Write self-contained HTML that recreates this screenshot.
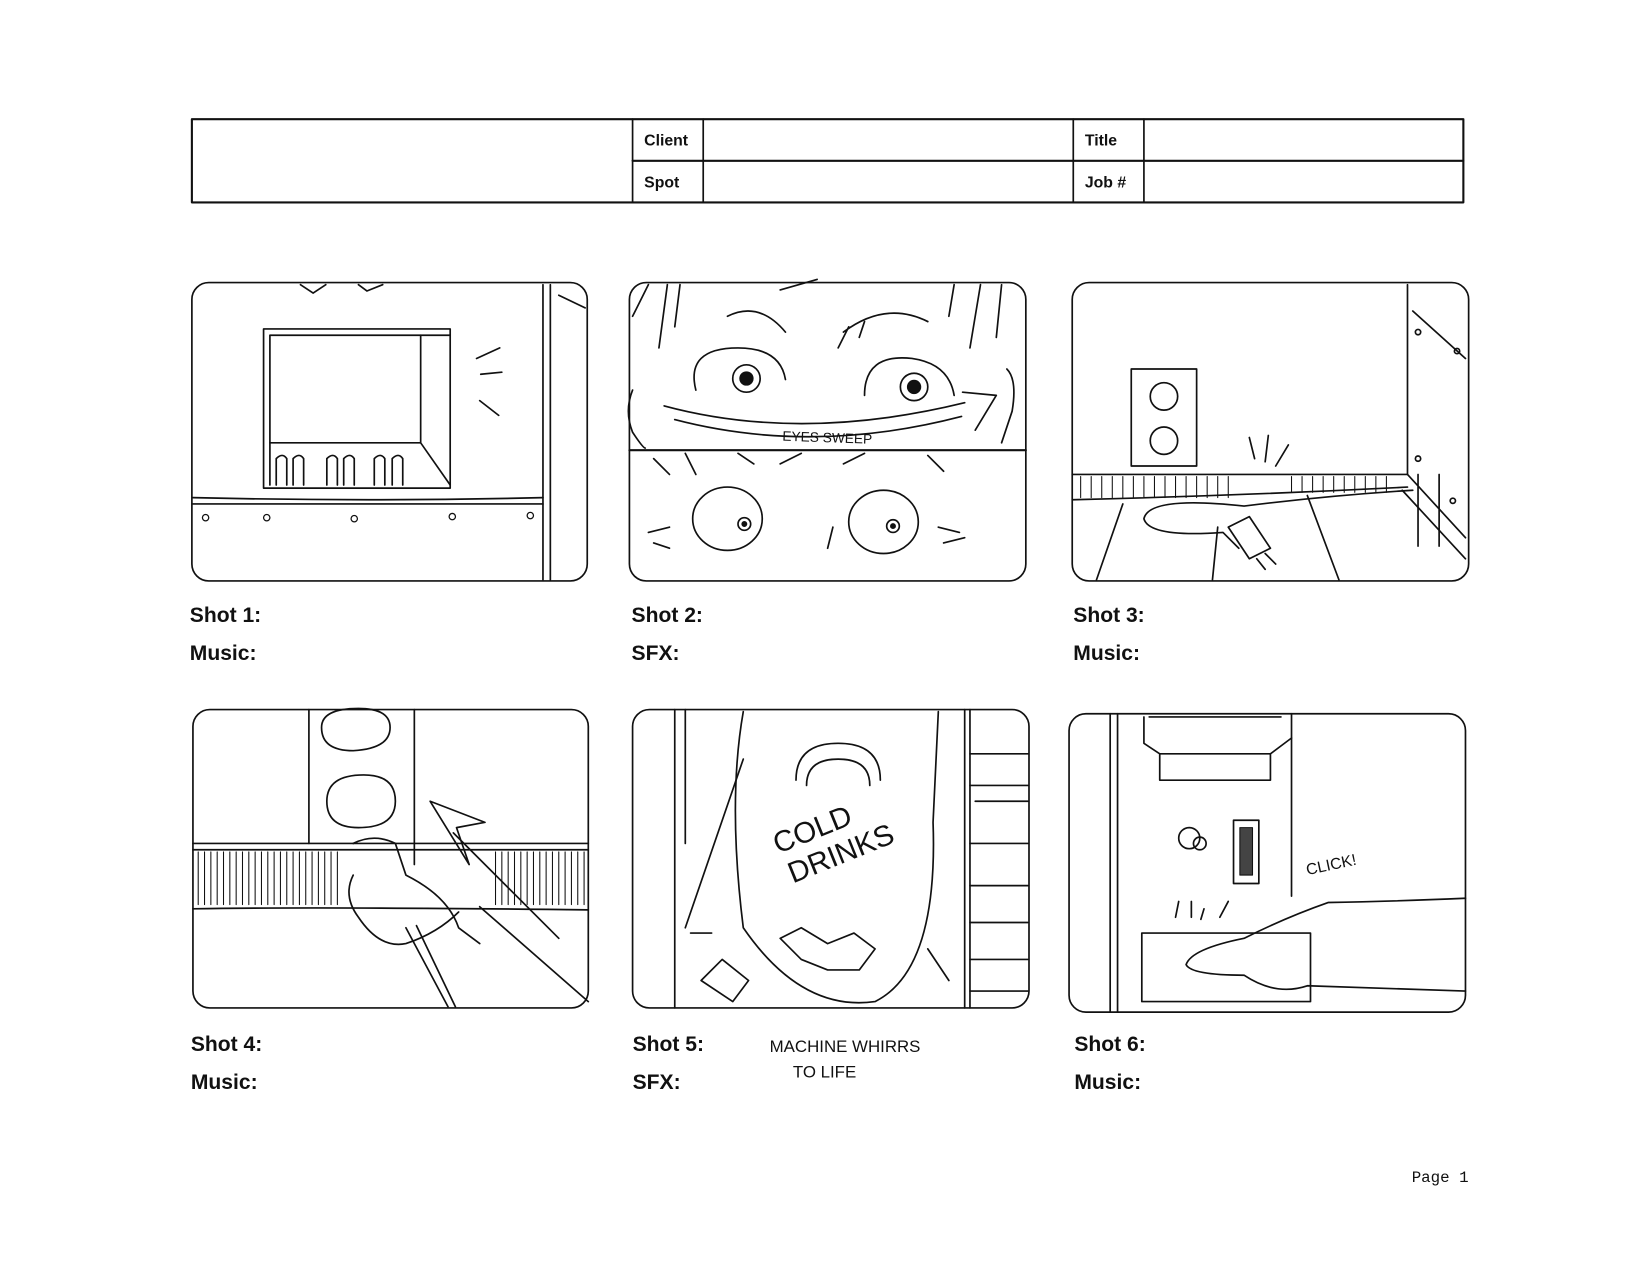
<!DOCTYPE html>
<html><head><meta charset="utf-8"><style>
html,body{margin:0;padding:0;background:#fff;}
svg{display:block;}
.l{font-family:"Liberation Sans",sans-serif;font-weight:bold;fill:#111;}
.h{font-family:"Liberation Sans",sans-serif;fill:#111;}
</style></head><body>
<svg width="1650" height="1275" viewBox="0 0 1650 1275" xmlns="http://www.w3.org/2000/svg">
<rect width="1650" height="1275" fill="#fff"/>
<g transform="scale(1.0543)" fill="none" stroke="#111" stroke-width="1.6" stroke-linecap="round" stroke-linejoin="round">
<!-- header table -->
<rect x="182" y="113" width="1206" height="79" stroke-width="2"/>
<line x1="600" y1="152.5" x2="1388" y2="152.5" stroke-width="2"/>
<line x1="600" y1="113" x2="600" y2="192"/>
<line x1="667" y1="113" x2="667" y2="192"/>
<line x1="1018" y1="113" x2="1018" y2="192"/>
<line x1="1085" y1="113" x2="1085" y2="192"/>
<g stroke="none">
<text class="l" x="611" y="138" font-size="15" style="font-weight:600">Client</text>
<text class="l" x="611" y="178" font-size="15" style="font-weight:600">Spot</text>
<text class="l" x="1029" y="138" font-size="15" style="font-weight:600">Title</text>
<text class="l" x="1029" y="178" font-size="15" style="font-weight:600">Job #</text>
</g>

<!-- Panels -->
<rect x="182" y="268" width="375" height="283" rx="16"/>
<rect x="597" y="268" width="376" height="283" rx="16"/>
<rect x="1017" y="268" width="376" height="283" rx="16"/>
<rect x="183" y="673" width="375" height="283" rx="16"/>
<rect x="600" y="673" width="376" height="283" rx="16"/>
<rect x="1014" y="677" width="376" height="283" rx="16"/>

<!-- Panel 1 -->
<path d="M285 270 l12 8 l12 -8 M340 270 l8 6 l15 -6"/>
<path d="M515 270 V550 M522 270 V550 M530 280 L555 292"/>
<path d="M183 472 Q350 476 515 472 M183 478 H515"/>
<rect x="250" y="312" width="177" height="151"/>
<rect x="256" y="318" width="143" height="102"/>
<path d="M399 318 L427 318 M399 420 L427 460 M256 420 V460"/>
<path d="M262 460 v-25 q6 -6 10 0 v25 M278 460 v-25 q6 -6 10 0 v25 M310 460 v-25 q6 -6 10 0 v25 M326 460 v-25 q6 -6 10 0 v25 M355 460 v-25 q6 -6 10 0 v25 M372 460 v-25 q6 -6 10 0 v25"/>
<path d="M452 340 l22 -10 M456 355 l20 -2 M455 380 l18 14"/>
<g stroke-width="1.2"><circle cx="195" cy="491" r="3"/><circle cx="253" cy="491" r="3"/><circle cx="336" cy="492" r="3"/><circle cx="429" cy="490" r="3"/><circle cx="503" cy="489" r="3"/></g>

<!-- Panel 2 -->
<path d="M597 427 H973" stroke-width="2"/>
<path d="M600 300 l15 -30 M625 330 l8 -60 M640 310 l5 -40 M900 300 l5 -30 M920 330 l10 -60 M945 320 l5 -50 M740 275 l35 -10"/>
<path d="M690 300 q30 -15 55 15 M800 315 q40 -30 80 -10 M795 330 l10 -20 M815 320 l5 -15"/>
<circle cx="708" cy="359" r="13"/><circle cx="708" cy="359" r="6" fill="#111"/>
<circle cx="867" cy="367" r="13"/><circle cx="867" cy="367" r="6" fill="#111"/>
<path d="M660 370 q-10 -40 40 -40 q40 0 45 30 M820 375 q0 -40 45 -35 q35 5 40 35"/>
<path d="M630 385 Q760 420 915 382 M913 372 L945 375 L925 408 M640 398 Q770 432 912 395"/>
<path d="M600 370 q-8 20 0 40 q10 15 12 15 M955 350 q10 10 5 40 l-10 30"/>
<path d="M620 435 l15 15 M650 430 l10 20 M700 430 l15 10 M740 440 l20 -10 M800 440 l20 -10 M880 432 l15 15"/>
<ellipse cx="690" cy="492" rx="33" ry="30"/><circle cx="706" cy="497" r="6"/><circle cx="706" cy="497" r="2" fill="#111"/>
<ellipse cx="838" cy="495" rx="33" ry="30"/><circle cx="847" cy="499" r="6"/><circle cx="847" cy="499" r="2" fill="#111"/>
<path d="M615 505 l20 -5 M620 515 l15 5 M890 500 l20 5 M895 515 l20 -5 M790 500 l-5 20"/>
<g stroke="none"><text class="h" x="742" y="418" font-size="13" transform="rotate(2 742 418)">EYES  SWEEP</text></g>

<!-- Panel 3 -->
<path d="M1335 270 V450 M1340 295 L1390 340 M1335 450 L1390 510 M1345 450 V518 M1365 450 V518"/>
<circle cx="1345" cy="315" r="2.5"/><circle cx="1382" cy="333" r="2.5"/><circle cx="1345" cy="435" r="2.5"/><circle cx="1378" cy="475" r="2.5"/>
<rect x="1073" y="350" width="62" height="92"/>
<circle cx="1104" cy="376" r="13"/><circle cx="1104" cy="418" r="13"/>
<path d="M1017 450 H1335 M1017 474 Q1180 470 1335 462"/>
<path d="M1025 452 v20 M1035 452 v20 M1045 452 v20 M1055 452 v20 M1065 452 v20 M1075 452 v20 M1085 452 v20 M1095 452 v20 M1105 452 v20 M1115 452 v20 M1125 452 v20 M1135 452 v20 M1145 452 v20 M1155 452 v20 M1165 452 v20 M1225 452 v15 M1235 452 v15 M1245 452 v15 M1255 452 v15 M1265 452 v15 M1275 452 v15 M1285 452 v15 M1295 452 v15 M1305 452 v15 M1315 452 v15" stroke-width="1"/>
<path d="M1040 550 L1065 478 M1150 550 L1155 500 M1270 550 L1240 470 M1390 530 L1330 465"/>
<path d="M1340 465 Q1260 470 1180 480 Q1090 470 1085 492 Q1090 510 1160 505 L1175 520"/>
<path d="M1165 500 l20 -10 l20 30 l-20 10 z M1200 525 l10 10 M1192 530 l8 10"/>
<path d="M1190 435 l-5 -20 M1200 438 l3 -25 M1210 442 l12 -20"/>

<!-- Panel 4 -->
<path d="M293 673 V800 M393 673 V820"/>
<path d="M305 690 q0 -18 35 -18 q30 0 30 18 q0 20 -35 22 q-30 0 -30 -22"/>
<path d="M310 760 q0 -25 35 -25 q30 0 30 25 q0 25 -35 25 q-30 0 -30 -25"/>
<path d="M183 800 H558 M183 806 H558 M183 862 Q300 860 558 863"/>
<g stroke-width="1"><path d="M188 808 v50 M194 808 v50 M200 808 v50 M206 808 v50 M212 808 v50 M218 808 v50 M224 808 v50 M230 808 v50 M236 808 v50 M242 808 v50 M248 808 v50 M254 808 v50 M260 808 v50 M266 808 v50 M272 808 v50 M278 808 v50 M284 808 v50 M290 808 v50 M296 808 v50 M302 808 v50 M308 808 v50 M314 808 v50 M320 808 v50 M470 808 v50 M476 808 v50 M482 808 v50 M488 808 v50 M494 808 v50 M500 808 v50 M506 808 v50 M512 808 v50 M518 808 v50 M524 808 v50 M530 808 v50 M536 808 v50 M542 808 v50 M548 808 v50 M554 808 v50"/></g>
<path d="M408 760 L445 820 L433 785 L460 780 Z M430 790 L530 890 M455 860 L558 950"/>
<path d="M335 800 q20 -10 40 0 l10 30 q40 20 50 50 l20 15 M335 830 q-10 20 5 40 q20 30 45 25 q30 -10 50 -30"/>
<path d="M385 880 L425 955 M395 878 L432 955"/>

<!-- Panel 5 -->
<path d="M640 673 V956 M650 673 V800 M915 673 V956 M920 673 V956"/>
<path d="M705 675 Q690 760 705 880 Q760 960 830 950 Q890 920 885 780 L890 675" />
<path d="M755 740 q0 -35 40 -35 q40 0 40 35 M765 745 q0 -25 30 -25 q30 0 30 25"/>
<path d="M740 890 l20 -10 l25 15 l25 -10 l20 15 l-15 20 l-30 0 l-25 -10 z M665 930 l20 -20 l25 20 l-15 20 z M655 885 l20 0 M880 900 l20 30"/>
<path d="M650 880 L705 720"/>
<path d="M920 715 H975 M920 745 H975 M925 760 H975 M920 800 H975 M920 840 H975 M920 875 H975 M920 910 H975 M920 940 H975"/>
<g stroke="none"><text class="h" x="738" y="810" font-size="28" transform="rotate(-22 738 810)">COLD</text><text class="h" x="752" y="838" font-size="28" transform="rotate(-22 752 838)">DRINKS</text></g>

<!-- Panel 6 -->
<path d="M1053 677 V960 M1060 677 V960 M1225 677 V850"/>
<path d="M1085 680 V705 L1100 715 H1205 L1225 700 M1100 715 V740 H1205 V715 M1090 680 H1215"/>
<circle cx="1128" cy="795" r="10"/><circle cx="1138" cy="800" r="6"/>
<rect x="1170" y="778" width="24" height="60"/><rect x="1176" y="785" width="12" height="45" fill="#444" stroke-width="1"/>
<rect x="1083" y="885" width="160" height="65"/>
<path d="M1118 855 l-3 15 M1130 855 l0 15 M1142 862 l-3 10 M1165 855 l-8 15"/>
<path d="M1390 852 Q1320 855 1260 856 Q1220 870 1180 890 Q1130 900 1125 915 Q1130 925 1180 925 Q1210 945 1240 935 L1390 940"/>
<g stroke="none"><text class="h" x="1240" y="830" font-size="15" transform="rotate(-12 1240 830)">CLICK!</text></g>

<!-- labels -->
<g stroke="none">
<text class="l" x="180" y="590" font-size="20">Shot 1:</text>
<text class="l" x="180" y="626" font-size="20">Music:</text>
<text class="l" x="599" y="590" font-size="20">Shot 2:</text>
<text class="l" x="599" y="626" font-size="20">SFX:</text>
<text class="l" x="1018" y="590" font-size="20">Shot 3:</text>
<text class="l" x="1018" y="626" font-size="20">Music:</text>
<text class="l" x="181" y="997" font-size="20">Shot 4:</text>
<text class="l" x="181" y="1033" font-size="20">Music:</text>
<text class="l" x="600" y="997" font-size="20">Shot 5:</text>
<text class="l" x="600" y="1033" font-size="20">SFX:</text>
<text class="l" x="1019" y="997" font-size="20">Shot 6:</text>
<text class="l" x="1019" y="1033" font-size="20">Music:</text>
<text class="h" x="730" y="998" font-size="16">MACHINE WHIRRS</text>
<text class="h" x="752" y="1022" font-size="16">TO LIFE</text>
<text x="1339" y="1121" font-size="15" font-family="Liberation Mono, monospace" fill="#111">Page 1</text>
</g>
</g>
</svg>
</body></html>
